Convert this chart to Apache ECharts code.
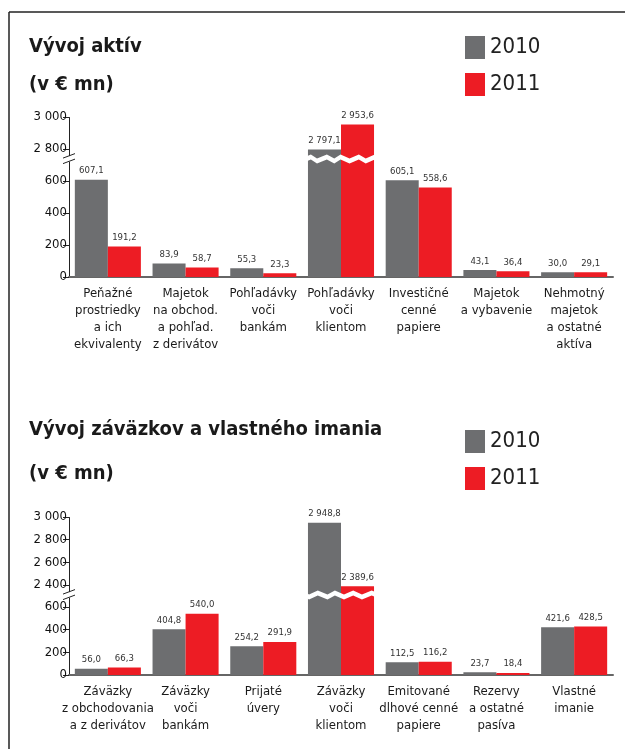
<!DOCTYPE html>
<html>
<head>
<meta charset="utf-8">
<script src="https://cdn.jsdelivr.net/npm/echarts@6/dist/echarts.min.js"></script>
<style>
  html, body { margin: 0; padding: 0; background: #fff; }
  #main { width: 625px; height: 749px; }
</style>
</head>
<body>
<div id="main"></div>
<script>
// aktíva
var catsAktiva = ['Peňažné\nprostriedky\na ich\nekvivalenty', 'Majetok\nna obchod.\na pohľad.\nz derivátov', 'Pohľadávky\nvoči\nbankám', 'Pohľadávky\nvoči\nklientom', 'Investičné\ncenné\npapiere', 'Majetok\na vybavenie', 'Nehmotný\nmajetok\na ostatné\naktíva'];
var aktiva2010 = [607.1, 83.9, 55.3, 2797.1, 605.1, 43.1, 30.0];
var aktiva2011 = [191.2, 58.7, 23.3, 2953.6, 558.6, 36.4, 29.1];
var ticksAktiva = [0, 200, 400, 600, 2800, 3000];

// záväzky a vlastné imanie
var catsPasiva = ['Záväzky\nz obchodovania\na z derivátov', 'Záväzky\nvoči\nbankám', 'Prijaté\núvery', 'Záväzky\nvoči\nklientom', 'Emitované\ndlhové cenné\npapiere', 'Rezervy\na ostatné\npasíva', 'Vlastné\nimanie'];
var pasiva2010 = [56.0, 404.8, 254.2, 2948.8, 112.5, 23.7, 421.6];
var pasiva2011 = [66.3, 540.0, 291.9, 2389.6, 116.2, 18.4, 428.5];
var ticksPasiva = [0, 200, 400, 600, 2400, 2600, 2800, 3000];

var years = ['2010', '2011'];
var yMax = 3000;

// prerušenie osi (od, do, medzera)
var breakAktiva = { start: 725, end: 2755, gap: 30 };
var breakPasiva = { start: 690, end: 2335, gap: 40 };

var GREY = '#6d6e70', RED = '#ed1c24';
var FONT = '"Liberation Sans Narrow", "DejaVu Sans Condensed", sans-serif';

// slovenský formát čísel: 2 797,1
function fmt(v, dec) {
    var s = v.toFixed(dec).split('.');
    s[0] = s[0].replace(/\B(?=(\d{3})+(?!\d))/g, ' ');
    return s.length > 1 ? s[0] + ',' + s[1] : s[0];
}

function yAxisCfg(idx, brk, ticks) {
    return {
        type: 'value', gridIndex: idx, min: 0, max: yMax,
        breaks: [brk],
        breakArea: {
            show: true,
            itemStyle: { color: '#fff', borderWidth: 0, opacity: 1 },
            zigzagAmplitude: 2, zigzagMinSpan: 6, zigzagMaxSpan: 10
        },
        axisLine: { show: true, lineStyle: { color: '#222', width: 1 } },
        axisTick: { show: true, length: 6, customValues: ticks, lineStyle: { color: '#222' } },
        axisLabel: { fontFamily: FONT, fontSize: 13, color: '#111', margin: 2,
            customValues: ticks, hideOverlap: false,
            formatter: function (v) { return fmt(v, 0); } },
        splitLine: { show: false }
    };
}

function xAxisCfg(idx, cats) {
    return {
        type: 'category', gridIndex: idx, data: cats,
        axisLine: { show: true, lineStyle: { color: '#666', width: 2 } },
        axisTick: { show: false },
        axisLabel: { fontFamily: FONT, fontSize: 13, lineHeight: 17, color: '#1a1a1a',
            margin: 8, interval: 0 }
    };
}

function barSeries(name, idx, data, color) {
    return {
        name: name, type: 'bar', xAxisIndex: idx, yAxisIndex: idx,
        data: data, barGap: 0, barCategoryGap: '15%',
        itemStyle: { color: color },
        label: { show: true, position: 'top', distance: 4, fontFamily: FONT,
            fontSize: 9.5, color: '#333', formatter: function (p) { return fmt(p.value, 1); } }
    };
}

function legendCfg(top) {
    return {
        data: years, orient: 'vertical', left: 460, top: top,
        icon: 'rect', itemWidth: 20, itemHeight: 23, itemGap: 14,
        textStyle: { fontFamily: FONT, fontSize: 22, color: '#222', padding: [3, 0, 0, 0] },
        selectedMode: false
    };
}

function titleStyle(lh) {
    return { fontFamily: FONT, fontSize: 20, fontWeight: 'bold', lineHeight: lh, color: '#1a1a1a' };
}

var frame = [
    { type: 'line', shape: { x1: 9, y1: 12, x2: 9, y2: 749 }, style: { stroke: '#222', lineWidth: 1.5 } },
    { type: 'line', shape: { x1: 9, y1: 12, x2: 625, y2: 12 }, style: { stroke: '#222', lineWidth: 1.5 } }
];

var myChart = echarts.init(document.getElementById('main'));

myChart.setOption({
    animation: false,
    title: [
        { text: 'Vývoj aktív\n(v € mn)', left: 24, top: 23, textStyle: titleStyle(38) },
        { text: 'Vývoj záväzkov a vlastného imania\n(v € mn)', left: 24, top: 403, textStyle: titleStyle(44) }
    ],
    legend: [legendCfg(31), legendCfg(425)],
    grid: [
        { left: 69, right: 12, top: 117, bottom: 472 },
        { left: 69, right: 12, top: 517, bottom: 74 }
    ],
    xAxis: [xAxisCfg(0, catsAktiva), xAxisCfg(1, catsPasiva)],
    yAxis: [
        yAxisCfg(0, breakAktiva, ticksAktiva),
        yAxisCfg(1, breakPasiva, ticksPasiva)
    ],
    series: [
        barSeries(years[0], 0, aktiva2010, GREY),
        barSeries(years[1], 0, aktiva2011, RED),
        barSeries(years[0], 1, pasiva2010, GREY),
        barSeries(years[1], 1, pasiva2011, RED)
    ],
    graphic: frame
});

// značka prerušenia na osi y (dve šikmé čiary)
function breakMark(axisIdx, brk) {
    var c0 = myChart.convertToPixel({ xAxisIndex: axisIdx }, 0);
    var c1 = myChart.convertToPixel({ xAxisIndex: axisIdx }, 1);
    var xa = c0 - (c1 - c0) / 2;
    var yA = myChart.convertToPixel({ yAxisIndex: axisIdx }, brk.start);
    var yB = myChart.convertToPixel({ yAxisIndex: axisIdx }, brk.end);
    var ym = (yA + yB) / 2;
    return [
        { type: 'rect', shape: { x: xa - 2, y: ym - 2.5, width: 4, height: 5 }, style: { fill: '#fff' }, z: 100 },
        { type: 'line', shape: { x1: xa - 6, y1: ym + 5, x2: xa + 6, y2: ym + 0.5 }, style: { stroke: '#222', lineWidth: 1 }, z: 101 },
        { type: 'line', shape: { x1: xa - 6, y1: ym - 0.5, x2: xa + 6, y2: ym - 5 }, style: { stroke: '#222', lineWidth: 1 }, z: 101 }
    ];
}

myChart.setOption({
    graphic: frame.concat(breakMark(0, breakAktiva), breakMark(1, breakPasiva))
});
</script>
</body>
</html>
